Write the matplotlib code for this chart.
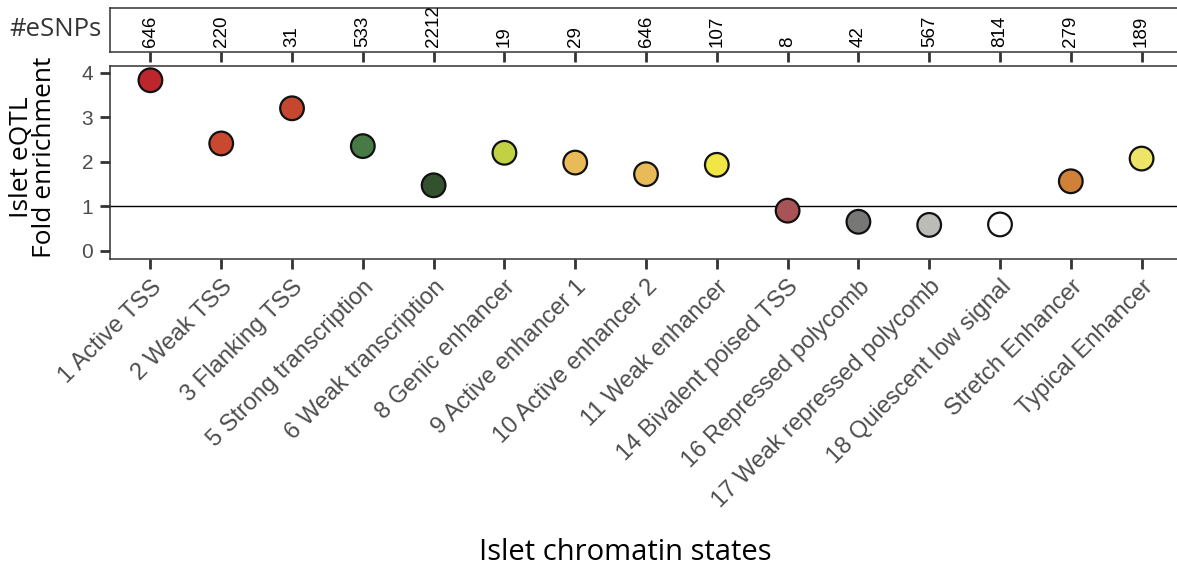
import matplotlib
matplotlib.use("Agg")
import matplotlib.pyplot as plt

states = [
    "1 Active TSS", "2 Weak TSS", "3 Flanking TSS", "5 Strong transcription",
    "6 Weak transcription", "8 Genic enhancer", "9 Active enhancer 1",
    "10 Active enhancer 2", "11 Weak enhancer", "14 Bivalent poised TSS",
    "16 Repressed polycomb", "17 Weak repressed polycomb",
    "18 Quiescent low signal", "Stretch Enhancer", "Typical Enhancer",
]
fold_enrichment = [3.83, 2.41, 3.20, 2.35, 1.47, 2.20, 1.98, 1.72, 1.93,
                   0.90, 0.65, 0.58, 0.59, 1.56, 2.07]
n_esnps = [646, 220, 31, 533, 2212, 19, 29, 646, 107, 8, 42, 567, 814, 279, 189]
state_colors = ["#BE262D", "#C8492F", "#C5472F", "#477A44", "#33502F",
                "#C2D044", "#E8BB58", "#E8BB58", "#F0E747", "#A85456",
                "#777876", "#BBBBB8", "#FFFFFF", "#D08037", "#ECE567"]

W, H = 1177, 574
fig = plt.figure(figsize=(W / 100, H / 100), dpi=100)

def frac(x0, y0, x1, y1):
    return [x0 / W, 1 - y1 / H, (x1 - x0) / W, (y1 - y0) / H]

frame_col = "#333333"
tick_col = "#4D4D4D"
xs = list(range(len(states)))
xlim = (-0.571, 14.5)

# top strip: number of eSNPs per state
ax_top = fig.add_axes(frac(110, 8, W, 51.7))
ax_top.set_xlim(*xlim)
ax_top.set_ylim(0, 1)
ax_top.set_xticks(xs)
ax_top.set_xticklabels([])
ax_top.set_yticks([])
ax_top.tick_params(axis="x", length=7, width=2, color=frame_col, direction="out")
for s in ["left", "top", "bottom"]:
    ax_top.spines[s].set_linewidth(1.1)
    ax_top.spines[s].set_color(frame_col)
ax_top.spines["right"].set_visible(False)
for x, n in zip(xs, n_esnps):
    ax_top.text(x, 0.115, str(n), rotation=90, ha="center", va="bottom",
                fontsize=13.5, family="Liberation Sans", color="black")
fig.text(55 / W, 1 - 30 / H, "#eSNPs", ha="center", va="center",
         fontsize=18.5, family="Open Sans", color="#333333")

# main panel: fold enrichment per chromatin state
ax = fig.add_axes(frac(110, 65.7, W, 259.3))
ax.set_xlim(*xlim)
ax.set_ylim(-0.193, 4.157)
ax.axhline(1, color="black", lw=1.0, zorder=1)
ax.scatter(xs, fold_enrichment, s=290, c=state_colors, edgecolors="#111111",
           linewidths=1.6, zorder=3)
ax.set_yticks([0, 1, 2, 3, 4])
ax.set_xticks(xs)
ax.set_xticklabels(states, rotation=45, ha="right", rotation_mode="anchor",
                   fontsize=17, family="Liberation Sans", color=tick_col)
for lab in ax.get_yticklabels():
    lab.set_fontsize(15)
    lab.set_family("Liberation Sans")
    lab.set_color(tick_col)
ax.tick_params(axis="both", length=7, width=2, color=frame_col, direction="out", pad=5)
ax.tick_params(axis="y", pad=5)
for s in ["left", "top", "bottom"]:
    ax.spines[s].set_linewidth(1.1)
    ax.spines[s].set_color(frame_col)
ax.spines["right"].set_visible(False)

fig.text(33 / W, 1 - 157 / H, "Islet eQTL\nFold enrichment", rotation=90,
         ha="center", va="center", multialignment="center", fontsize=19,
         family="Open Sans", color="black", linespacing=0.92)

fig.text(625 / W, 1 - 553 / H, "Islet chromatin states", ha="center",
         va="center", fontsize=21, family="Open Sans", color="black")

fig.savefig("out.png", dpi=100, facecolor="white")
